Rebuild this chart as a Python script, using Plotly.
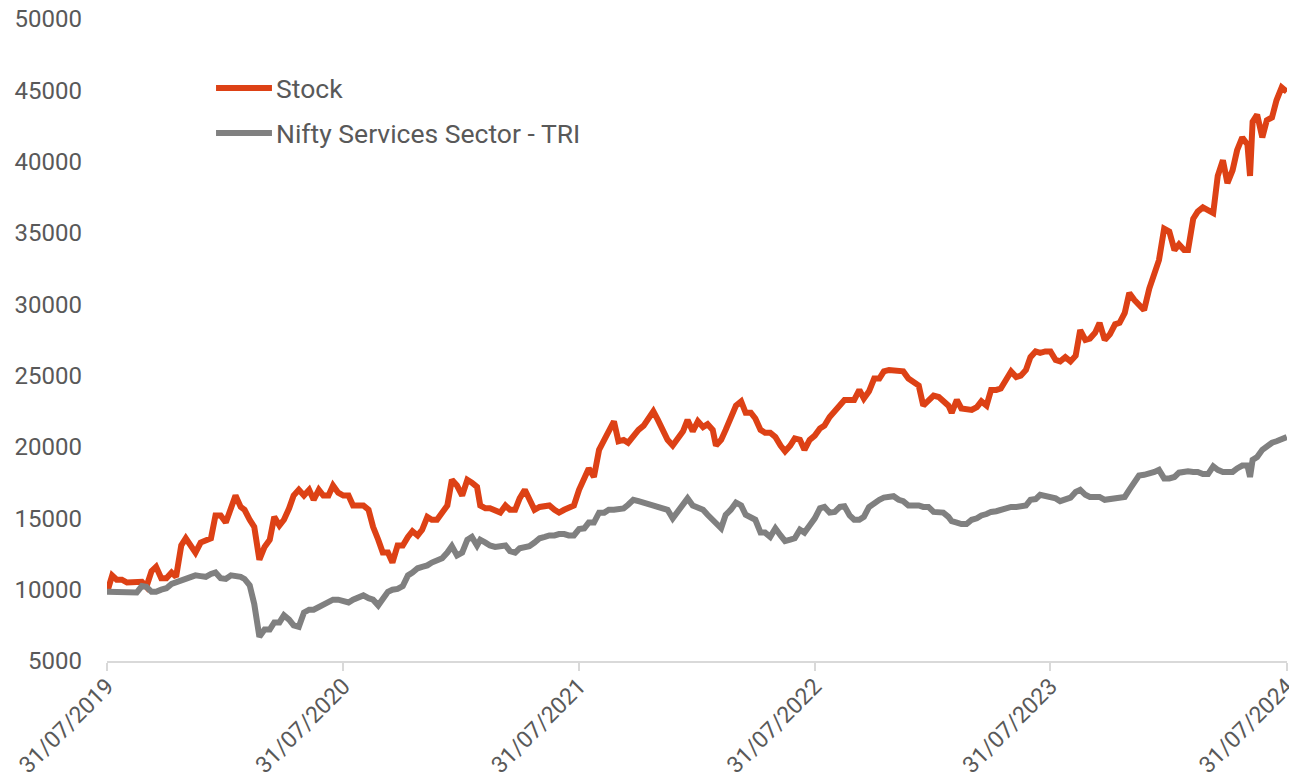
import plotly.graph_objects as go

# ---- data ----
dates = [
    "2019-07-31",
    "2019-08-08", "2019-08-15", "2019-08-23", "2019-08-31",
    "2019-09-08", "2019-09-15", "2019-09-23", "2019-09-30",
    "2019-10-08", "2019-10-15", "2019-10-23", "2019-10-31",
    "2019-11-08", "2019-11-15", "2019-11-23", "2019-11-30",
    "2019-12-08", "2019-12-15", "2019-12-23", "2019-12-31",
    "2020-01-08", "2020-01-15", "2020-01-23", "2020-01-31",
    "2020-02-08", "2020-02-15", "2020-02-23", "2020-02-29",
    "2020-03-08", "2020-03-15", "2020-03-23", "2020-03-31",
    "2020-04-08", "2020-04-15", "2020-04-23", "2020-04-30",
    "2020-05-08", "2020-05-15", "2020-05-23", "2020-05-31",
    "2020-06-08", "2020-06-15", "2020-06-23", "2020-06-30",
    "2020-07-08", "2020-07-15", "2020-07-23", "2020-07-31",
    "2020-08-08", "2020-08-15", "2020-08-23", "2020-08-31",
    "2020-09-08", "2020-09-15", "2020-09-23", "2020-09-30",
    "2020-10-08", "2020-10-15", "2020-10-23", "2020-10-31",
    "2020-11-08", "2020-11-15", "2020-11-23", "2020-11-30",
    "2020-12-08", "2020-12-15", "2020-12-23", "2020-12-31",
    "2021-01-08", "2021-01-15", "2021-01-23", "2021-01-31",
    "2021-02-08", "2021-02-15", "2021-02-23", "2021-02-28",
    "2021-03-08", "2021-03-15", "2021-03-23", "2021-03-31",
    "2021-04-08", "2021-04-15", "2021-04-23", "2021-04-30",
    "2021-05-08", "2021-05-15", "2021-05-23", "2021-05-31",
    "2021-06-08", "2021-06-15", "2021-06-23", "2021-06-30",
    "2021-07-08", "2021-07-15", "2021-07-23", "2021-07-31",
    "2021-08-08", "2021-08-15", "2021-08-23", "2021-08-31",
    "2021-09-08", "2021-09-15", "2021-09-23", "2021-09-30",
    "2021-10-08", "2021-10-15", "2021-10-23", "2021-10-31",
    "2021-11-08", "2021-11-15", "2021-11-23", "2021-11-30",
    "2021-12-08", "2021-12-15", "2021-12-23", "2021-12-31",
    "2022-01-08", "2022-01-15", "2022-01-23", "2022-01-31",
    "2022-02-08", "2022-02-15", "2022-02-23", "2022-02-28",
    "2022-03-08", "2022-03-15", "2022-03-23", "2022-03-31",
    "2022-04-08", "2022-04-15", "2022-04-23", "2022-04-30",
    "2022-05-08", "2022-05-15", "2022-05-23", "2022-05-31",
    "2022-06-08", "2022-06-15", "2022-06-23", "2022-06-30",
    "2022-07-08", "2022-07-15", "2022-07-23", "2022-07-31",
    "2022-08-08", "2022-08-15", "2022-08-23", "2022-08-31",
    "2022-09-08", "2022-09-15", "2022-09-23", "2022-09-30",
    "2022-10-08", "2022-10-15", "2022-10-23", "2022-10-31",
    "2022-11-08", "2022-11-15", "2022-11-23", "2022-11-30",
    "2022-12-08", "2022-12-15", "2022-12-23", "2022-12-31",
    "2023-01-08", "2023-01-15", "2023-01-23", "2023-01-31",
    "2023-02-08", "2023-02-15", "2023-02-23", "2023-02-28",
    "2023-03-08", "2023-03-15", "2023-03-23", "2023-03-31",
    "2023-04-08", "2023-04-15", "2023-04-23", "2023-04-30",
    "2023-05-08", "2023-05-15", "2023-05-23", "2023-05-31",
    "2023-06-08", "2023-06-15", "2023-06-23", "2023-06-30",
    "2023-07-08", "2023-07-15", "2023-07-23", "2023-07-31",
    "2023-08-08", "2023-08-15", "2023-08-23", "2023-08-31",
    "2023-09-08", "2023-09-15", "2023-09-23", "2023-09-30",
    "2023-10-08", "2023-10-15", "2023-10-23", "2023-10-31",
    "2023-11-08", "2023-11-15", "2023-11-23", "2023-11-30",
    "2023-12-08", "2023-12-15", "2023-12-23", "2023-12-31",
    "2024-01-08", "2024-01-15", "2024-01-23", "2024-01-31",
    "2024-02-08", "2024-02-15", "2024-02-23", "2024-02-29",
    "2024-03-08", "2024-03-15", "2024-03-23", "2024-03-31",
    "2024-04-08", "2024-04-15", "2024-04-23", "2024-04-30",
    "2024-05-08", "2024-05-15", "2024-05-23", "2024-05-31",
    "2024-06-04", "2024-06-08", "2024-06-15", "2024-06-23", "2024-06-30",
    "2024-07-08", "2024-07-15", "2024-07-23", "2024-07-31",
]

stock = [
    9800,
    11000, 10700, 10700, 10500,
    10500, 10500, 10550, 10200,
    11300, 11600, 10800, 10800,
    11200, 10900, 13100, 13600,
    13100, 12600, 13300, 13500,
    13600, 15200, 15200, 14700,
    15600, 16600, 15800, 15600,
    14900, 14400, 12100, 13000,
    13500, 15100, 14500, 14900,
    15700, 16600, 17000, 16600,
    17000, 16300, 17000, 16600,
    16600, 17300, 16800, 16600,
    16600, 15900, 15900, 15900,
    15600, 14400, 13500, 12600,
    12600, 11900, 13100, 13100,
    13700, 14100, 13800, 14200,
    15100, 14900, 14900, 15400,
    15900, 17700, 17300, 16600,
    17700, 17500, 17200, 15900,
    15700, 15700, 15600, 15400,
    15900, 15600, 15600, 16400,
    17000, 16300, 15600, 15800,
    15900, 15900, 15600, 15400,
    15600, 15700, 15900, 17000,
    17700, 18500, 17900, 19800,
    20500, 21200, 21800, 20400,
    20500, 20300, 20800, 21200,
    21500, 22000, 22500, 21900,
    21200, 20500, 20100, 20700,
    21100, 21900, 21100, 21800,
    21400, 21600, 21200, 20100,
    20500, 21200, 22000, 22900,
    23200, 22400, 22400, 22000,
    21200, 21000, 21000, 20700,
    20100, 19700, 20100, 20600,
    20500, 19800, 20500, 20800,
    21300, 21500, 22100, 22500,
    22800, 23300, 23300, 23300,
    24000, 23400, 23900, 24800,
    24800, 25300, 25400, 25400,
    25300, 25300, 24800, 24500,
    24300, 22900, 23200, 23600,
    23500, 23200, 22900, 22400,
    23300, 22700, 22600, 22600,
    22800, 23200, 22900, 24000,
    24000, 24100, 24700, 25300,
    24900, 25000, 25400, 26300,
    26700, 26600, 26700, 26700,
    26100, 26000, 26300, 26000,
    26400, 28200, 27500, 27600,
    28000, 28700, 27500, 27900,
    28600, 28700, 29400, 30800,
    30300, 30000, 29600, 31100,
    32100, 33100, 35300, 35100,
    33800, 34200, 33800, 33800,
    36000, 36500, 36800, 36600,
    36400, 39000, 40100, 38500,
    39400, 40800, 41700, 41200,
    39000, 42800, 43300, 41700, 42900,
    43100, 44300, 45200, 44900,
]

nifty = [
    9850,
    9850, 9850, 9800, 9800,
    9800, 9800, 10250, 10200,
    9850, 9850, 10000, 10100,
    10400, 10500, 10600, 10700,
    10800, 11000, 10950, 10900,
    11100, 11200, 10800, 10750,
    11000, 11000, 10900, 10750,
    10300, 9000, 6700, 7200,
    7200, 7700, 7700, 8200,
    7900, 7500, 7400, 8400,
    8600, 8600, 8800, 8900,
    9100, 9300, 9300, 9200,
    9100, 9300, 9400, 9600,
    9400, 9300, 8900, 9300,
    9850, 10000, 10050, 10250,
    11000, 11200, 11500, 11600,
    11700, 11900, 12000, 12200,
    12600, 13050, 12400, 12600,
    13500, 13700, 13100, 13500,
    13300, 13100, 13000, 13100,
    13100, 12700, 12600, 12900,
    13000, 13050, 13300, 13600,
    13700, 13800, 13800, 13900,
    13900, 13800, 13800, 14250,
    14300, 14700, 14700, 15400,
    15400, 15600, 15600, 15600,
    15700, 15950, 16300, 16200,
    16100, 15950, 15900, 15800,
    15700, 15600, 15000, 15450,
    15900, 16400, 15900, 15800,
    15600, 15250, 14900, 14750,
    14300, 15250, 15600, 16100,
    15900, 15250, 15100, 14900,
    14000, 14000, 13700, 14300,
    13800, 13400, 13500, 13600,
    14200, 14000, 14500, 15000,
    15700, 15800, 15400, 15450,
    15800, 15850, 15200, 14900,
    14900, 15100, 15800, 16100,
    16300, 16450, 16500, 16550,
    16300, 16200, 15900, 15950,
    15900, 15800, 15800, 15450,
    15400, 15400, 15100, 14800,
    14700, 14600, 14600, 14900,
    15000, 15200, 15300, 15450,
    15500, 15600, 15650, 15800,
    15800, 15850, 15900, 16300,
    16350, 16650, 16550, 16450,
    16400, 16200, 16300, 16450,
    16850, 17000, 16650, 16500,
    16500, 16500, 16300, 16350,
    16300, 16450, 16500, 17000,
    17550, 18000, 18050, 18100,
    18250, 18400, 17800, 17800,
    17900, 18200, 18300, 18300,
    18250, 18250, 18100, 18100,
    18650, 18400, 18250, 18250,
    18250, 18500, 18700, 18700,
    17900, 19100, 19300, 19800, 20100,
    20300, 20400, 20550, 20700,
]

series_names = ["Stock", "Nifty Services Sector - TRI"]
series_colors = ["#DD4115", "#808080"]

tick_dates = ["2019-07-31", "2020-07-31", "2021-07-31", "2022-07-31", "2023-07-31", "2024-07-31"]
tick_labels = ["31/07/2019", "31/07/2020", "31/07/2021", "31/07/2022", "31/07/2023", "31/07/2024"]
y_ticks = [5000, 10000, 15000, 20000, 25000, 30000, 35000, 40000, 45000, 50000]

TEXT = "#595959"
FONT = "Roboto"

fig = go.Figure()
for name, vals, col in zip(series_names, [stock, nifty], series_colors):
    fig.add_trace(go.Scatter(
        x=dates, y=vals, mode="lines", name=name,
        line=dict(color=col, width=6), showlegend=False,
    ))

# legend drawn as line samples + text labels
leg_y = [0.8925, 0.8224]
for name, col, yy in zip(series_names, series_colors, leg_y):
    fig.add_shape(type="line", xref="paper", yref="paper",
                  x0=0.0924, x1=0.1398, y0=yy, y1=yy,
                  line=dict(color=col, width=6))
    fig.add_annotation(xref="paper", yref="paper", x=0.1412, y=yy,
                       text=name, showarrow=False, xanchor="left", yanchor="middle",
                       font=dict(family=FONT, size=26.5, color=TEXT))

# the page places the figure 8px from the top-left corner, so the
# figure is sized/margined to land the plot area where the reference has it
fig.update_layout(
    width=1289, height=775,
    margin=dict(l=99, r=10, t=11, b=122),
    paper_bgcolor="white", plot_bgcolor="white",
    font=dict(family=FONT, size=23, color=TEXT),
)
fig.update_xaxes(
    type="date", range=["2019-07-31", "2024-07-31 06:00"],
    tickvals=tick_dates, ticktext=tick_labels, tickangle=-45,
    showgrid=False, zeroline=False, automargin=False,
    showline=True, linecolor="#D9D9D9", linewidth=1.5,
    ticks="outside", ticklen=8, tickcolor="#D9D9D9", tickwidth=1.5,
    ticklabeloverflow="allow", ticklabelstandoff=-7,
    tickfont=dict(family=FONT, size=23, color=TEXT),
)
fig.update_yaxes(
    range=[5000, 50000], tickvals=y_ticks, tickformat="d",
    showgrid=False, zeroline=False, showline=False, ticks="",
    automargin=False, ticklabelstandoff=24, ticklabeloverflow="allow",
    tickfont=dict(family=FONT, size=24, color=TEXT),
)

fig.write_html("out.html")
